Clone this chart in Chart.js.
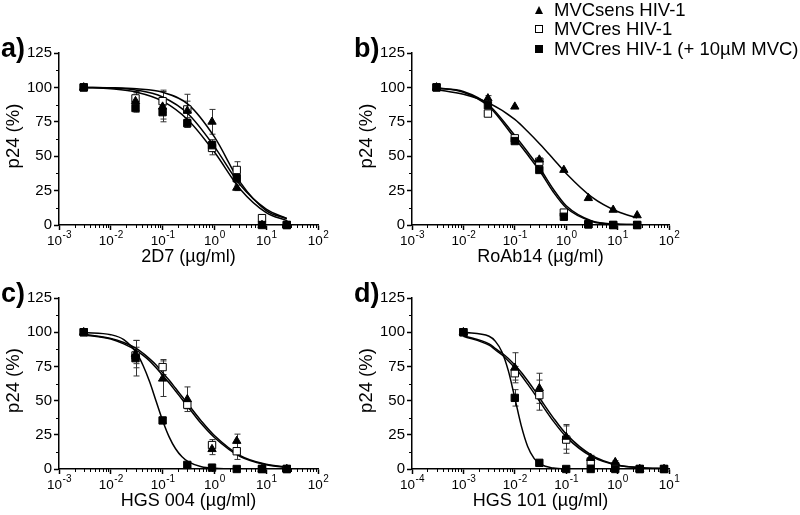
<!DOCTYPE html>
<html lang="en">
<head>
    <meta charset="UTF-8">
    <title>p24 inhibition by CCR5 antibodies</title>
    <script src="https://cdn.jsdelivr.net/npm/chart.js"></script>
    <style>
        body {
            margin: 0;
            background: #fff;
        }

        .figure {
            position: relative;
            width: 800px;
            height: 515px;
            font-family: 'Liberation Sans', Arial, Helvetica, sans-serif;
        }

        .figure canvas {
            position: absolute;
            left: 0;
            top: 0;
        }

        /* Legend (top right) */
        .legend-row {
            position: absolute;
            left: 533px;
            height: 20px;
            line-height: 20px;
            font-size: 18.5px;
            white-space: nowrap;
            color: #000;
        }
        .legend-row .mark { position: absolute; left: 2px; top: 6px; }
        .legend-row .label { position: absolute; left: 21px; top: 0; }
        .mark.tri {
            width: 0; height: 0;
            border-left: 4.5px solid transparent;
            border-right: 4.5px solid transparent;
            border-bottom: 8px solid #000;
        }
        .mark.open { width: 6px; height: 6px; border: 1px solid #000; background: #fff; }
        .mark.filled { width: 8px; height: 8px; background: #000; }
    </style>
</head>
<body>
    <div class="figure" id="figure">
        <canvas id="chartA" width="800" height="515"></canvas>
        <canvas id="chartB" width="800" height="515"></canvas>
        <canvas id="chartC" width="800" height="515"></canvas>
        <canvas id="chartD" width="800" height="515"></canvas>
    </div>

    <script>
        const seriesNames = ['MVCsens HIV-1', 'MVCres HIV-1', 'MVCres HIV-1 (+ 10µM MVC)'];
        const yTickValues = [0, 25, 50, 75, 100, 125];
        const yTitle = 'p24 (%)';

        // a) 2D7
        const decades2D7 = [-3, -2, -1, 0, 1, 2];
        const conc2D7 = [0.003, 0.03, 0.1, 0.3, 0.9, 2.7, 8.3, 25];
        const sens2D7 = [100, 90, 86, 83, 75, 27, 0, 0];
        const sensErr2D7 = [0, 7, 11, 12, 9, 2, 0, 0];
        const res2D7 = [100, 92, 90, 84, 56, 40, 5, 0];
        const resErr2D7 = [0, 4, 8, 6, 5, 6, 2, 0];
        const mvc2D7 = [100, 85, 82, 74, 58, 34, 0, 0];
        const mvcErr2D7 = [0, 3, 5, 3, 4, 3, 0, 0];
        const fitX2D7 = [0.003, 0.01, 0.0316, 0.1, 0.316, 1, 3.16, 10, 25];
        const sensFit2D7 = [100, 99.8, 99, 96.5, 87.5, 64, 31, 10.5, 4.5];
        const resFit2D7 = [100, 99.5, 98, 93, 80.5, 57, 29, 11.5, 4.8];
        const mvcFit2D7 = [100, 99, 96.5, 90, 76, 53, 26, 9, 3.2];

        // b) RoAb14
        const decadesRoAb14 = [-3, -2, -1, 0, 1, 2];
        const concRoAb14 = [0.003, 0.03, 0.1, 0.3, 0.9, 2.7, 8.2, 24];
        const sensRoAb14 = [100, 92, 86, 47.5, 40, 19.5, 11, 7];
        const sensErrRoAb14 = [0, 2, 0, 0, 0, 0, 0, 0];
        const resRoAb14 = [100, 81, 63, 46, 9, 0.5, 0, 0];
        const resErrRoAb14 = [0, 2, 0, 0, 0, 0, 0, 0];
        const mvcRoAb14 = [100, 87, 61, 40, 6, 0.5, 0, 0];
        const mvcErrRoAb14 = [0, 0, 0, 0, 0, 0, 0, 0];
        const fitXRoAb14 = [0.003, 0.01, 0.0316, 0.1, 0.178, 0.316, 0.562, 1, 3.16, 10, 24];
        const sensFitRoAb14 = [98.5, 95, 88.6, 76.8, 68, 58.4, 48, 37.5, 20.3, 9.8, 5.2];
        const resFitRoAb14 = [99.5, 97, 87, 65, 53, 40.5, 26, 14, 3, 0.7, 0.2];
        const mvcFitRoAb14 = [99.5, 96.5, 86, 63, 51, 38.5, 24, 12.5, 2.6, 0.6, 0.2];

        // c) HGS 004
        const decadesHGS004 = [-3, -2, -1, 0, 1, 2];
        const concHGS004 = [0.003, 0.03, 0.1, 0.3, 0.9, 2.7, 8.3, 25];
        const sensHGS004 = [100, 84, 66, 51, 14.5, 20.5, 0, 0];
        const sensErrHGS004 = [0, 10, 13, 9, 4, 5, 0, 0];
        const resHGS004 = [100, 83, 74.5, 47, 17.5, 13, 0, 0];
        const resErrHGS004 = [0, 6, 5.5, 3, 4, 6, 0, 0];
        const mvcHGS004 = [100, 81, 35.5, 3, 1, 0, 0, 0];
        const mvcErrHGS004 = [0, 13, 2, 1, 0, 0, 0, 0];
        const fitXHGS004 = [0.003, 0.01, 0.0178, 0.0316, 0.0422, 0.0562, 0.075, 0.1, 0.133, 0.178, 0.237, 0.316, 0.562, 1, 3.16, 10, 25];
        const sensFitHGS004 = [98.5, 95.5, 92.5, 88, 84.5, 80.5, 76, 70.5, 65, 59, 53, 47, 35, 24.5, 9.8, 3.4, 1.4];
        const resFitHGS004 = [98, 95, 91.5, 86.5, 83, 79, 74, 68.5, 63, 57, 51, 45, 33, 23, 9, 3.1, 1.2];
        const mvcFitHGS004 = [99.8, 98.2, 94.6, 84.6, 75.5, 63.7, 49.5, 35.5, 23.7, 14.8, 8.9, 5.2, 1.7, 0.55, 0.05, 0, 0];

        // d) HGS 101
        const decadesHGS101 = [-4, -3, -2, -1, 0, 1];
        const concHGS101 = [0.001, 0.01, 0.03, 0.1, 0.3, 0.9, 2.7, 8];
        const sensHGS101 = [100, 74, 59, 23.5, 8, 5, 0, 0];
        const sensErrHGS101 = [0, 11, 11, 9, 2, 1, 0, 0];
        const resHGS101 = [100, 70, 54, 21.5, 5.5, 2, 0, 0];
        const resErrHGS101 = [0, 5, 11, 10, 3, 1, 0, 0];
        const mvcHGS101 = [100, 52, 4.5, 0, 0, 0, 0, 0];
        const mvcErrHGS101 = [0, 6, 1, 0, 0, 0, 0, 0];
        const fitXHGS101 = [0.001, 0.00316, 0.0042, 0.0056, 0.0075, 0.01, 0.0133, 0.0178, 0.0237, 0.0316, 0.0562, 0.1, 0.316, 1, 3.16, 8];
        const sensFitHGS101 = [97.5, 91.5, 88, 84.8, 80.8, 76, 70.7, 64.5, 58, 51, 37.4, 25.5, 10, 3, 1, 0.4];
        const resFitHGS101 = [97, 90.5, 87, 83.5, 79, 74, 68.5, 62, 55.5, 48.5, 35, 23.5, 9, 2.7, 0.8, 0.3];
        const mvcFitHGS101 = [99.9, 97, 93.3, 85.7, 71.7, 52, 31.9, 16.5, 7.8, 3.5, 0.66, 0.1, 0, 0, 0, 0];

        const FONT = "'Liberation Sans', Arial, Helvetica, sans-serif";
        Chart.defaults.font.family = FONT;
        Chart.defaults.color = '#000';

        function pts(xs, ys) {
            return xs.map((x, i) => ({ x: x, y: ys[i] }));
        }

        function markerSet(label, xs, ys, errs, style) {
            return {
                label: label,
                data: pts(xs, ys),
                errors: errs,
                showLine: false,
                clip: false,
                pointStyle: style === 'tri' ? 'triangle' : 'rect',
                pointRadius: style === 'tri' ? 4.8 : 5.2,
                pointBackgroundColor: style === 'open' ? '#fff' : '#000',
                pointBorderColor: '#000',
                pointBorderWidth: 1
            };
        }

        function fitLine(xs, ys) {
            return {
                data: pts(xs, ys),
                borderColor: '#000',
                borderWidth: 1.5,
                pointRadius: 0,
                cubicInterpolationMode: 'monotone',
                fill: false
            };
        }

        // error bars, minor ticks, superscript tick labels, titles and panel letter
        const panelDecor = {
            id: 'panelDecor',
            beforeDatasetsDraw(chart) {
                const ctx = chart.ctx;
                const y = chart.scales.y;
                ctx.save();
                ctx.strokeStyle = '#333';
                ctx.lineWidth = 1;
                chart.data.datasets.forEach((ds, i) => {
                    if (!ds.errors) return;
                    chart.getDatasetMeta(i).data.forEach((pt, j) => {
                        const e = ds.errors[j];
                        if (!e) return;
                        const v = ds.data[j].y;
                        const top = y.getPixelForValue(v + e);
                        const bot = y.getPixelForValue(Math.max(v - e, 0));
                        const px = Math.round(pt.x) + 0.5;
                        ctx.beginPath();
                        ctx.moveTo(px, top); ctx.lineTo(px, bot);
                        ctx.moveTo(px - 3, top); ctx.lineTo(px + 3, top);
                        ctx.moveTo(px - 3, bot); ctx.lineTo(px + 3, bot);
                        ctx.stroke();
                    });
                });
                ctx.restore();
            },
            afterDraw(chart, args, opts) {
                const { ctx, chartArea: ca } = chart;
                const x = chart.scales.x, y = chart.scales.y;
                ctx.save();

                // minor ticks
                ctx.strokeStyle = '#000';
                ctx.lineWidth = 1;
                ctx.beginPath();
                opts.decades.slice(0, -1).forEach(e => {
                    for (let m = 2; m <= 9; m++) {
                        const px = Math.round(x.getPixelForValue(m * Math.pow(10, e))) + 0.5;
                        ctx.moveTo(px, ca.bottom);
                        ctx.lineTo(px, ca.bottom + 3);
                    }
                });
                for (let v = 12.5; v < 125; v += 25) {
                    const py = Math.round(y.getPixelForValue(v)) + 0.5;
                    ctx.moveTo(ca.left - 3, py);
                    ctx.lineTo(ca.left, py);
                }
                ctx.stroke();

                // 10^n labels
                ctx.fillStyle = '#000';
                ctx.textBaseline = 'alphabetic';
                ctx.textAlign = 'left';
                opts.decades.forEach(e => {
                    const px = x.getPixelForValue(Math.pow(10, e));
                    const exp = String(e);
                    ctx.font = '13.5px ' + FONT;
                    const bw = ctx.measureText('10').width;
                    ctx.font = '10px ' + FONT;
                    const ew = ctx.measureText(exp).width;
                    const left = px - (bw + ew) / 2;
                    ctx.font = '13.5px ' + FONT;
                    ctx.fillText('10', left, ca.bottom + 19.5);
                    ctx.font = '10px ' + FONT;
                    ctx.fillText(exp, left + bw + 0.5, ca.bottom + 12.5);
                });

                // axis titles
                ctx.textAlign = 'center';
                ctx.font = '18px ' + FONT;
                ctx.fillText(opts.xTitle, (ca.left + ca.right) / 2, ca.bottom + 37);

                ctx.save();
                ctx.translate(ca.left - 40, (ca.top + ca.bottom) / 2 - 3);
                ctx.rotate(-Math.PI / 2);
                ctx.font = '18.5px ' + FONT;
                ctx.fillText(yTitle, 0, 0);
                ctx.restore();

                // panel letter
                ctx.textAlign = 'left';
                ctx.font = 'bold 27px ' + FONT;
                ctx.fillText(opts.letter, ca.left - 58, ca.top + 3.5);
                ctx.restore();
            }
        };

        function drawPanel(id, p) {
            const xMin = Math.pow(10, p.decades[0]);
            const xMax = Math.pow(10, p.decades[p.decades.length - 1]);
            return new Chart(document.getElementById(id), {
                type: 'line',
                data: {
                    datasets: [
                        markerSet(seriesNames[0], p.conc, p.sens, p.sensErr, 'tri'),
                        markerSet(seriesNames[2], p.conc, p.mvc, p.mvcErr, 'filled'),
                        markerSet(seriesNames[1], p.conc, p.res, p.resErr, 'open'),
                        fitLine(p.fitX, p.sensFit),
                        fitLine(p.fitX, p.resFit),
                        fitLine(p.fitX, p.mvcFit)
                    ]
                },
                options: {
                    responsive: false,
                    animation: false,
                    events: [],
                    layout: { padding: p.pad },
                    plugins: {
                        legend: { display: false },
                        tooltip: { enabled: false },
                        panelDecor: { letter: p.letter, xTitle: p.xTitle, decades: p.decades }
                    },
                    scales: {
                        x: {
                            type: 'logarithmic',
                            min: xMin,
                            max: xMax,
                            afterBuildTicks: s => {
                                s.ticks = p.decades.map(e => ({ value: Math.pow(10, e), major: true }));
                            },
                            ticks: { display: false },
                            grid: { drawOnChartArea: false, tickLength: 5, tickWidth: 1.5, tickColor: '#000' },
                            border: { color: '#000', width: 1.5 },
                            afterFit: s => { s.height = 40; }
                        },
                        y: {
                            min: 0,
                            max: 125,
                            afterBuildTicks: s => {
                                s.ticks = yTickValues.map(v => ({ value: v }));
                            },
                            ticks: { font: { size: 15 }, color: '#000', padding: 2 },
                            grid: { drawOnChartArea: false, tickLength: 5, tickWidth: 1.5, tickColor: '#000' },
                            border: { color: '#000', width: 1.5 },
                            afterFit: s => { s.width = 59; }
                        }
                    }
                },
                plugins: [panelDecor]
            });
        }

        drawPanel('chartA', {
            letter: 'a)', xTitle: '2D7 (µg/ml)', decades: decades2D7,
            conc: conc2D7, sens: sens2D7, sensErr: sensErr2D7, res: res2D7, resErr: resErr2D7,
            mvc: mvc2D7, mvcErr: mvcErr2D7,
            fitX: fitX2D7, sensFit: sensFit2D7, resFit: resFit2D7, mvcFit: mvcFit2D7,
            pad: { left: 0, top: 53, right: 482, bottom: 250 }
        });

        drawPanel('chartB', {
            letter: 'b)', xTitle: 'RoAb14 (µg/ml)', decades: decadesRoAb14,
            conc: concRoAb14, sens: sensRoAb14, sensErr: sensErrRoAb14, res: resRoAb14, resErr: resErrRoAb14,
            mvc: mvcRoAb14, mvcErr: mvcErrRoAb14,
            fitX: fitXRoAb14, sensFit: sensFitRoAb14, resFit: resFitRoAb14, mvcFit: mvcFitRoAb14,
            pad: { left: 353, top: 53, right: 131, bottom: 250 }
        });

        drawPanel('chartC', {
            letter: 'c)', xTitle: 'HGS 004 (µg/ml)', decades: decadesHGS004,
            conc: concHGS004, sens: sensHGS004, sensErr: sensErrHGS004, res: resHGS004, resErr: resErrHGS004,
            mvc: mvcHGS004, mvcErr: mvcErrHGS004,
            fitX: fitXHGS004, sensFit: sensFitHGS004, resFit: resFitHGS004, mvcFit: mvcFitHGS004,
            pad: { left: 0, top: 298, right: 482, bottom: 6 }
        });

        drawPanel('chartD', {
            letter: 'd)', xTitle: 'HGS 101 (µg/ml)', decades: decadesHGS101,
            conc: concHGS101, sens: sensHGS101, sensErr: sensErrHGS101, res: resHGS101, resErr: resErrHGS101,
            mvc: mvcHGS101, mvcErr: mvcErrHGS101,
            fitX: fitXHGS101, sensFit: sensFitHGS101, resFit: resFitHGS101, mvcFit: mvcFitHGS101,
            pad: { left: 353, top: 298, right: 131, bottom: 6 }
        });

        // legend
        const legendMarks = ['tri', 'open', 'filled'];
        const figure = document.getElementById('figure');
        seriesNames.forEach((name, i) => {
            const row = document.createElement('div');
            row.className = 'legend-row';
            row.style.top = (i * 19.75 - 0.3) + 'px';
            const mark = document.createElement('div');
            mark.className = 'mark ' + legendMarks[i];
            const label = document.createElement('span');
            label.className = 'label';
            label.textContent = name;
            row.appendChild(mark);
            row.appendChild(label);
            figure.appendChild(row);
        });
    </script>
</body>
</html>
